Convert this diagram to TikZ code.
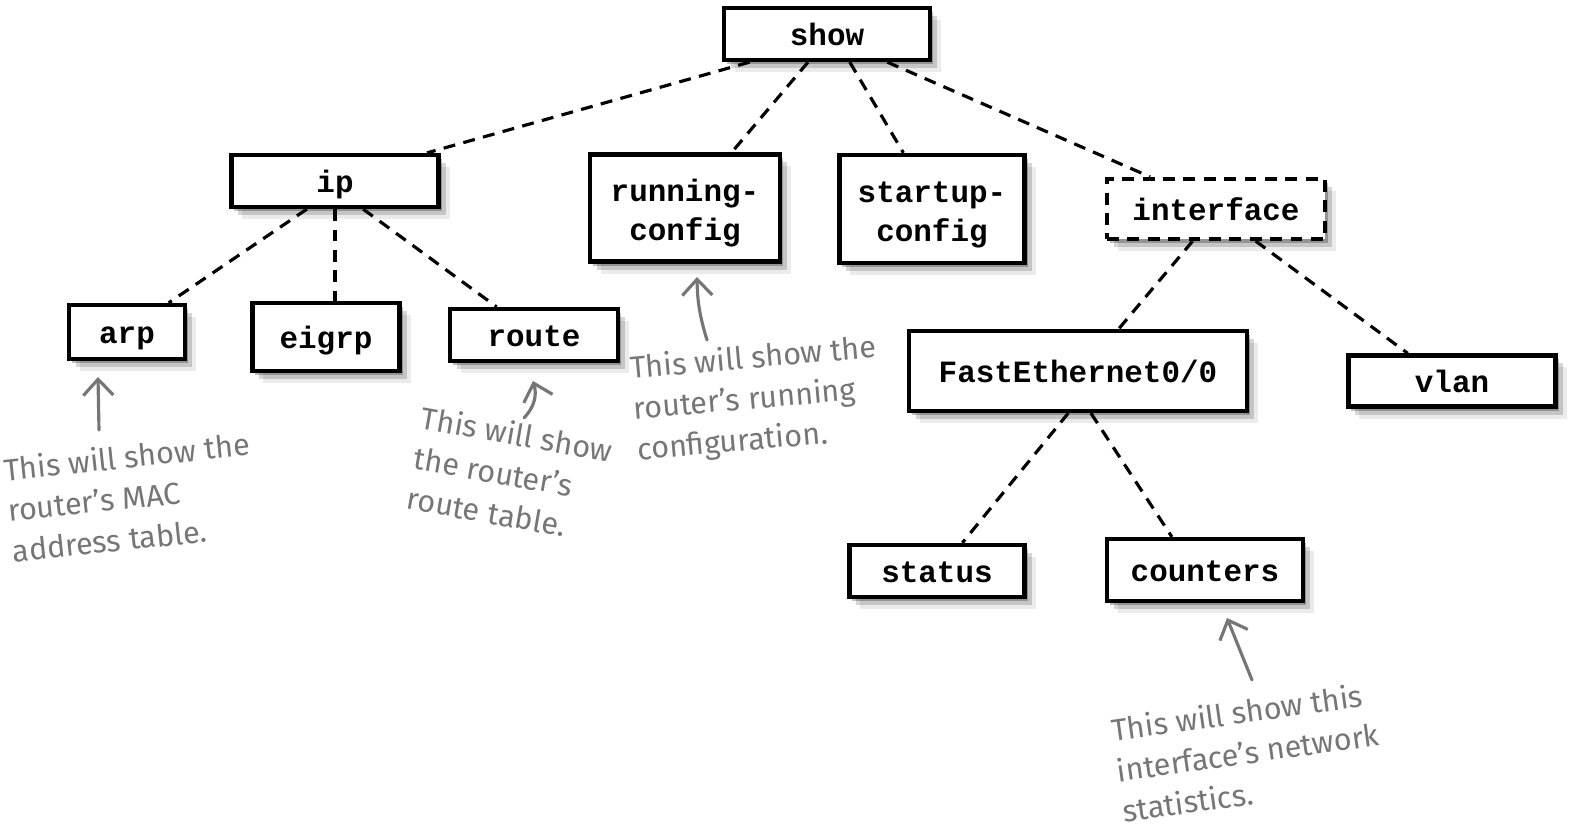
\documentclass[tikz,border=0pt]{standalone}
\usepackage{fontspec}
\setmonofont{Liberation Mono}
\newfontfamily\handfont{Fira Sans}
\usepackage{xcolor}
\usepackage{tikz}
\usetikzlibrary{
    arrows.meta,
    shadows,
    calc
}
\definecolor{notegray}{RGB}{118,118,118}

\begin{document}
\begin{tikzpicture}[
    x=0.01cm, y=-0.01cm,
    cmd/.style={
        rectangle,
        draw=black,
        line width=1.2pt,
        fill=white,
        inner sep=0pt,
        align=center,
        text height=6.6pt,
        text depth=0pt,
        font=\fontsize{8.8}{11}\selectfont\ttfamily\bfseries,
        drop shadow={shadow xshift=0.03cm, shadow yshift=-0.04cm, opacity=0.25, fill=black},
        drop shadow={shadow xshift=0.07cm, shadow yshift=-0.08cm, opacity=0.16, fill=black},
        drop shadow={shadow xshift=0.11cm, shadow yshift=-0.12cm, opacity=0.08, fill=black}
    },
    twoline/.style={text height=18.4pt},
    link/.style={line width=0.9pt, dash pattern=on 3.4pt off 2.4pt},
    note/.style={
        text=notegray,
        align=left,
        inner sep=0pt,
        font=\fontsize{8.7}{11.6}\selectfont\handfont
    },
    pointer/.style={-{Straight Barb[length=1.6mm, width=3mm]}, draw=notegray, line width=0.9pt, line cap=round}
]
\useasboundingbox (0,0) rectangle (1578,834);

% Root
\node[cmd, minimum width=2.06cm, minimum height=0.52cm] (show) at (827,34) {show};

% Second level
\node[cmd, minimum width=2.07cm, minimum height=0.52cm] (ip) at (335,181) {ip};
\node[cmd, twoline, minimum width=1.90cm, minimum height=1.07cm] (running) at (685,208) {running-\\config};
\node[cmd, twoline, minimum width=1.85cm, minimum height=1.08cm] (startup) at (932,209) {startup-\\config};
\node[cmd, dash pattern=on 3.4pt off 2.4pt, minimum width=2.18cm, minimum height=0.60cm] (interface) at (1216,209) {interface};

% Under ip
\node[cmd, minimum width=1.16cm, minimum height=0.54cm] (arp) at (127,332) {arp};
\node[cmd, minimum width=1.47cm, minimum height=0.68cm] (eigrp) at (326,337) {eigrp};
\node[cmd, minimum width=1.68cm, minimum height=0.52cm] (route) at (534,335) {route};

% Under interface
\node[cmd, minimum width=3.38cm, minimum height=0.80cm] (fast) at (1078,371) {FastEthernet0/0};
\node[cmd, minimum width=2.07cm, minimum height=0.51cm] (vlan) at (1452,381) {vlan};
\node[cmd, minimum width=1.75cm, minimum height=0.52cm] (status) at (937,571) {status};
\node[cmd, minimum width=1.96cm, minimum height=0.62cm] (counters) at (1205,570) {counters};

% Tree links
\draw[link] (show.200) -- (ip.17);
\draw[link] (show.236) -- (running.50);
\draw[link] (show.309) -- (startup.117);
\draw[link] (show.335) -- (interface.154);
\draw[link] (ip.225) -- (arp.35);
\draw[link] (ip.south) -- (ip.south |- eigrp.north);
\draw[link] (ip.315) -- (route.143);
\draw[link] (interface.234) -- (fast.46);
\draw[link] (interface.321) -- (vlan.148);
\draw[link] (fast.257) -- (status.48);
\draw[link] (fast.287) -- (counters.135);

% Notes
\node[note, rotate=6] (arpnote) at (131,497) {This will show the\\router’s MAC\\address table.};
\node[note, rotate=-10] (routenote) at (510,474) {This will show\\the router’s\\route table.};
\node[note, rotate=5] (runnote) at (757,400) {This will show the\\router’s running\\configuration.};
\node[note, rotate=8] (cntnote) at (1248,752) {This will show this\\interface’s network\\statistics.};

% Note arrows
\coordinate (arpfrom) at (99,430);
\coordinate (arpto) at (98,377);
\coordinate (routefrom) at (524,418);
\coordinate (routeto) at (533,381);
\coordinate (runfrom) at (707,340);
\coordinate (runto) at (697,277);
\coordinate (cntfrom) at (1252,680);
\coordinate (cntto) at (1227,618);
\draw[pointer] (arpfrom) -- (arpto);
\draw[pointer] (routefrom) to[bend right=30] (routeto);
\draw[pointer] (runfrom) to[bend left=8] (runto);
\draw[pointer] (cntfrom) -- (cntto);

\end{tikzpicture}
\end{document}
